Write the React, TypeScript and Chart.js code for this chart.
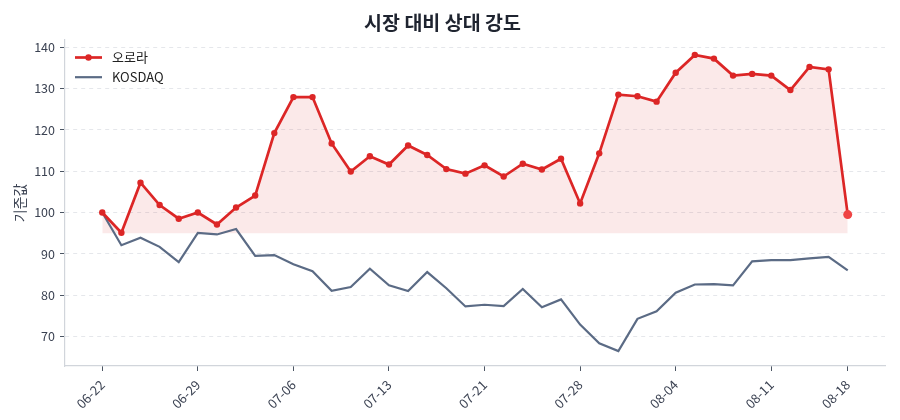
import { useEffect, useRef } from 'react';
import { Chart, registerables } from 'chart.js';

Chart.register(...registerables);

const FONT = '"Noto Sans CJK KR", "Noto Sans", sans-serif';

// trading days (MM-DD)
const dates = [
  '06-22', '06-23', '06-24', '06-25', '06-26',
  '06-29', '06-30', '07-01', '07-02', '07-03',
  '07-06', '07-07', '07-08', '07-09', '07-10',
  '07-13', '07-14', '07-15', '07-16', '07-20',
  '07-21', '07-22', '07-23', '07-24', '07-27',
  '07-28', '07-29', '07-30', '07-31', '08-03',
  '08-04', '08-05', '08-06', '08-07', '08-10',
  '08-11', '08-12', '08-13', '08-14', '08-18',
];

const auroraValues = [
  100.0, 95.1, 107.2, 101.8, 98.5, 100.0, 97.1, 101.2, 104.1, 119.2,
  127.9, 127.9, 116.7, 109.9, 113.6, 111.6, 116.2, 113.9, 110.5, 109.4,
  111.4, 108.7, 111.8, 110.4, 113.0, 102.2, 114.3, 128.5, 128.1, 126.8,
  133.8, 138.1, 137.2, 133.1, 133.5, 133.1, 129.6, 135.2, 134.6, 99.5,
];

const kosdaqValues = [
  100.0, 92.1, 93.9, 91.7, 88.0, 95.1, 94.7, 96.0, 89.5, 89.7,
  87.5, 85.8, 81.1, 82.0, 86.4, 82.4, 81.0, 85.6, 81.7, 77.3,
  77.7, 77.4, 81.5, 77.1, 79.0, 72.9, 68.4, 66.5, 74.3, 76.1,
  80.6, 82.6, 82.7, 82.4, 88.2, 88.5, 88.5, 88.9, 89.3, 86.0,
];

const xTickIndexes = [0, 5, 10, 15, 20, 25, 30, 35, 39];
const yTicks = [70, 80, 90, 100, 110, 120, 130, 140];
const baseline = 95;

const RED = '#dc2626';
const SLATE = '#5b6b85';
const TEXT = '#3b4252';

// legend drawn inside the plot, top-left
const insideLegend = {
  id: 'insideLegend',
  afterDatasetsDraw(chart: Chart) {
    const { ctx, chartArea } = chart;
    chart.data.datasets.forEach((ds: any, i: number) => {
      const x0 = chartArea.left + 10;
      const y = chartArea.top + 17.5 + i * 19.7;
      ctx.save();
      ctx.strokeStyle = ds.borderColor;
      ctx.lineWidth = ds.borderWidth;
      ctx.beginPath();
      ctx.moveTo(x0, y);
      ctx.lineTo(x0 + 27, y);
      ctx.stroke();
      if (ds.showMarker) {
        ctx.fillStyle = ds.borderColor;
        ctx.beginPath();
        ctx.arc(x0 + 13.5, y, 3.2, 0, Math.PI * 2);
        ctx.fill();
      }
      ctx.fillStyle = '#222';
      ctx.font = `13px ${FONT}`;
      ctx.textBaseline = 'middle';
      ctx.fillText(ds.label, x0 + 37, y);
      ctx.restore();
    });
  },
};

export default function App() {
  const canvasRef = useRef<HTMLCanvasElement>(null);
  const chartRef = useRef<Chart | null>(null);

  useEffect(() => {
    document.body.style.margin = '0';
    if (!canvasRef.current) return;
    chartRef.current?.destroy();

    const last = auroraValues.length - 1;

    chartRef.current = new Chart(canvasRef.current, {
      type: 'line',
      data: {
        datasets: [
          {
            label: '오로라',
            data: auroraValues.map((y, i) => ({ x: i, y })),
            borderColor: RED,
            borderWidth: 2.7,
            backgroundColor: 'rgba(220,38,38,0.1)',
            fill: { value: baseline },
            pointRadius: (c: any) => (c.dataIndex === last ? 4.5 : 3.2),
            pointBackgroundColor: (c: any) => (c.dataIndex === last ? '#ef4444' : RED),
            pointBorderWidth: 0,
            tension: 0,
            showMarker: true,
          } as any,
          {
            label: 'KOSDAQ',
            data: kosdaqValues.map((y, i) => ({ x: i, y })),
            borderColor: SLATE,
            borderWidth: 2.2,
            pointRadius: 0,
            fill: false,
            tension: 0,
          },
        ],
      },
      options: {
        responsive: true,
        maintainAspectRatio: false,
        animation: false,
        layout: { padding: { left: 0, right: 15, top: 0, bottom: 0 } },
        plugins: {
          legend: { display: false },
          tooltip: { enabled: false },
          filler: { drawTime: 'beforeDatasetsDraw' },
          title: {
            display: true,
            text: '시장 대비 상대 강도',
            color: '#1f2430',
            font: { family: FONT, size: 19.5, weight: 'bold', lineHeight: 1.2 },
            padding: { top: 11, bottom: 5.6 },
          },
        },
        scales: {
          x: {
            type: 'linear',
            min: -1.95,
            max: 40.95,
            afterBuildTicks: (s: any) => {
              s.ticks = xTickIndexes.map((v) => ({ value: v }));
            },
            afterFit: (s: any) => {
              s.height = 54;
            },
            ticks: {
              autoSkip: false,
              minRotation: 45,
              maxRotation: 45,
              padding: 6,
              color: TEXT,
              font: { family: FONT, size: 13 },
              callback: (v: any) => dates[Number(v)],
            },
            grid: { drawOnChartArea: false, tickLength: 5, tickColor: '#4b5563' },
            border: { color: '#d1d5db', width: 1.2 },
          },
          y: {
            min: 62.9,
            max: 141.7,
            afterBuildTicks: (s: any) => {
              s.ticks = yTicks.map((v) => ({ value: v }));
            },
            afterFit: (s: any) => {
              s.width = 65;
            },
            ticks: {
              padding: 5,
              color: TEXT,
              font: { family: FONT, size: 12.5 },
            },
            grid: { color: '#e5e7eb', lineWidth: 1, tickLength: 5, tickColor: '#4b5563' },
            border: { color: '#d1d5db', width: 1.2, dash: [4, 4] },
            title: {
              display: true,
              text: '기준값',
              color: TEXT,
              font: { family: FONT, size: 14 },
              padding: { top: 11, bottom: 0 },
            },
          },
        },
      },
      plugins: [insideLegend],
    });

    return () => {
      chartRef.current?.destroy();
    };
  }, []);

  return (
    <div style={{ position: 'relative', width: 900, height: 420 }}>
      <canvas ref={canvasRef} />
    </div>
  );
}
